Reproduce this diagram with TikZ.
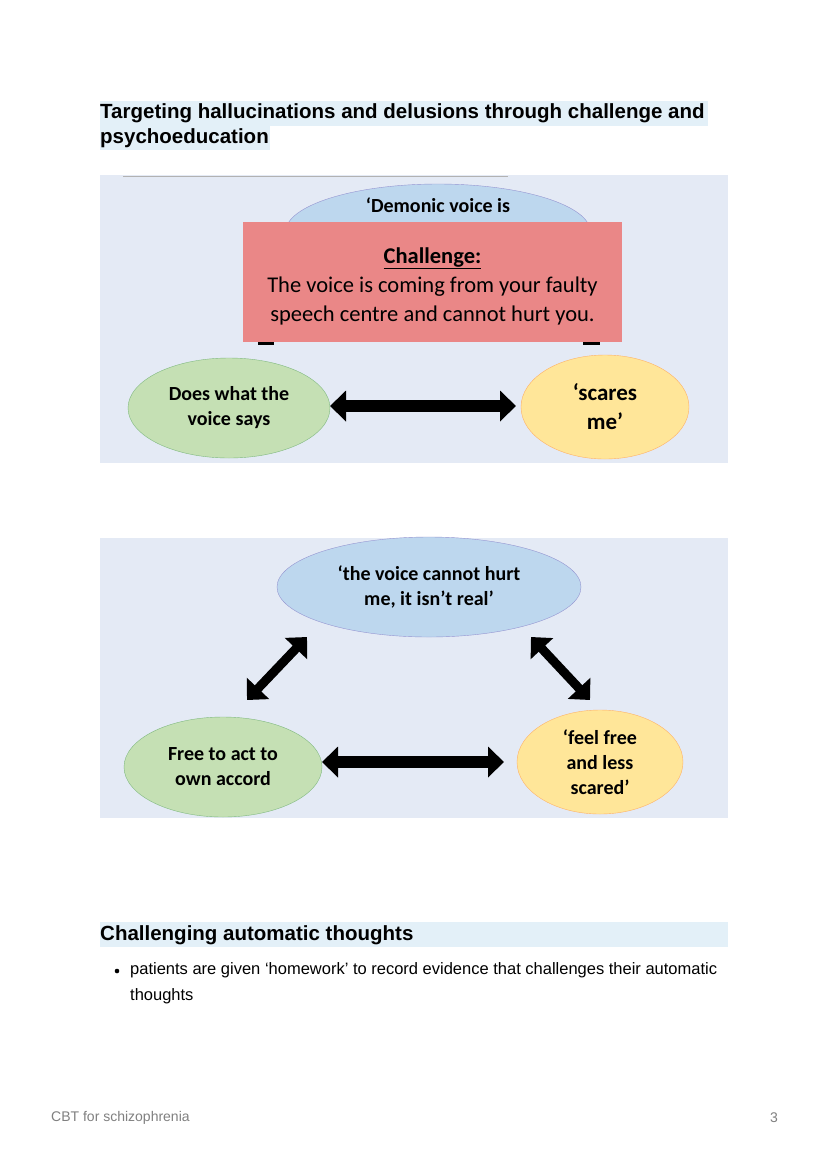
\documentclass[tikz,border=0pt]{standalone}
\usepackage{fontspec}
\setmainfont{Liberation Sans}
\newfontfamily\calib{Carlito}
\usetikzlibrary{arrows.meta,shapes.geometric}
\definecolor{hilite}{HTML}{E3F0F8}
\definecolor{panel}{HTML}{E4EAF5}
\definecolor{bluefill}{HTML}{BDD7EE}
\definecolor{greenfill}{HTML}{C5E0B4}
\definecolor{yellowfill}{HTML}{FFE699}
\definecolor{redfill}{HTML}{EA8787}
\tikzset{
  bubble/.style={ellipse, draw, align=center, font=\calib\bfseries\fontsize{20}{25}\selectfont, inner sep=0pt},
  bigarrow/.style={line width=12pt, {Triangle[width=30pt,length=16pt]}-{Triangle[width=30pt,length=16pt]}},
  head/.style={anchor=north west, inner sep=0pt, font=\bfseries\fontsize{20.5}{24}\selectfont}
}
\begin{document}
\begin{tikzpicture}[x=1pt,y=-1pt]
\useasboundingbox[fill=white] (0,0) rectangle (828,1171);

% title
\fill[hilite] (100,101) rectangle (708,126);
\fill[hilite] (100,126) rectangle (270,150);
\node[head] (title1) at (100,103) {Targeting hallucinations and delusions through challenge and};
\node[head] (title2) at (100,128) {psychoeducation};

% first panel
\fill[panel] (100,175) rectangle (728,463);
\draw[gray!60] (123,176) -- (508,176);
\node[bubble, fill=bluefill, draw=blue!40!gray!60, minimum width=305pt, minimum height=96pt] (demon) at (438,232) {};
\node[font=\calib\bfseries\fontsize{20}{25}\selectfont] (demontext) at (438,205) {‘Demonic voice is};
\fill[black] (258,338) rectangle (274,345);
\fill[black] (583,338) rectangle (600,345);
\fill[redfill] (243,222) rectangle (622,342);
\node[align=center, font=\calib\fontsize{22.5}{29}\selectfont] (challenge) at (432.5,286)
  {\textbf{\underline{Challenge:}}\\The voice is coming from your faulty\\speech centre and cannot hurt you.};
\node[bubble, fill=greenfill, draw=green!45!black!50, minimum width=202pt, minimum height=100pt] (does) at (229,408) {Does what the\\voice says};
\node[bubble, fill=yellowfill, draw=orange!60, minimum width=168pt, minimum height=104pt, font=\calib\bfseries\fontsize{23}{29}\selectfont] (scares) at (605,407) {‘scares\\me’};
\coordinate (c1) at (330,406);
\coordinate (c2) at (516,406);
\draw[bigarrow] (c1) -- (c2);

% second panel
\fill[panel] (100,538) rectangle (728,818);
\node[bubble, fill=bluefill, draw=blue!40!gray!60, minimum width=304pt, minimum height=100pt] (cannot) at (429,587) {‘the voice cannot hurt\\me, it isn’t real’};
\node[bubble, fill=greenfill, draw=green!45!black!50, minimum width=198pt, minimum height=100pt] (free) at (223,767) {Free to act to\\own accord};
\node[bubble, fill=yellowfill, draw=orange!60, minimum width=166pt, minimum height=104pt] (feel) at (600,762) {‘feel free\\and less\\scared’};
\coordinate (a1) at (307,637);
\coordinate (a2) at (247,700);
\coordinate (b1) at (531,637);
\coordinate (b2) at (590,700);
\coordinate (d1) at (322,762);
\coordinate (d2) at (504,762);
\draw[bigarrow, line width=9pt] (a1) -- (a2);
\draw[bigarrow, line width=9pt] (b1) -- (b2);
\draw[bigarrow] (d1) -- (d2);

% second heading
\fill[hilite] (100,922) rectangle (728,947);
\node[head] (title3) at (100,925) {Challenging automatic thoughts};
\fill (117,971) circle (2.3pt);
\node[anchor=north west, inner sep=0pt, align=left, font=\fontsize{16.5}{26}\selectfont] (bullet) at (130,962)
  {patients are given ‘homework’ to record evidence that challenges their automatic\\thoughts};

% footer
\node[anchor=west, inner sep=0pt, text=gray, font=\fontsize{14}{16}\selectfont] (foot) at (51,1118) {CBT for schizophrenia};
\node[anchor=east, inner sep=0pt, text=gray, font=\fontsize{14}{16}\selectfont] (page) at (778,1118) {3};
\end{tikzpicture}
\end{document}
